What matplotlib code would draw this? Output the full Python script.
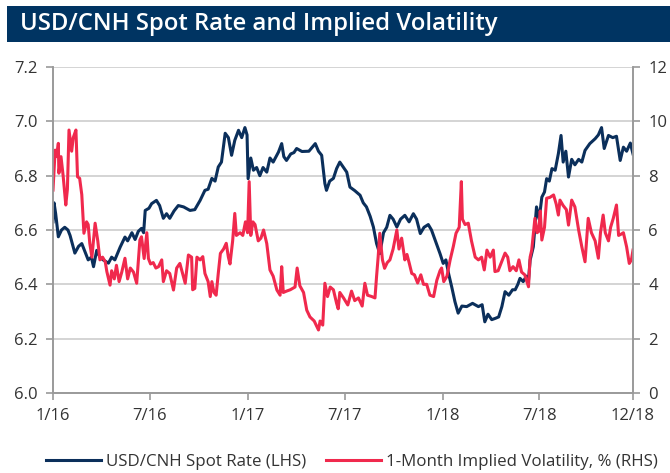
import matplotlib
matplotlib.use("Agg")
import matplotlib.pyplot as plt
from matplotlib.patches import Rectangle
from matplotlib.lines import Line2D
import pandas as pd

# ---------------- data ----------------
title = "USD/CNH Spot Rate and Implied Volatility"
start_date = "2016-01-01"
end_date = "2018-12-24"

# USD/CNH spot rate (LHS): day offsets from 2016-01-01 and values
spot_days = [0, 2, 5, 10, 16, 22, 28, 32, 41, 48, 54, 60, 66, 72, 76, 82, 88, 94,
             104, 110, 116, 126, 135, 140, 148, 154, 160, 166, 170, 173, 180, 185,
             194, 200, 207, 213, 219, 227, 235, 245, 257, 266, 276, 285, 291, 298,
             304, 310, 316, 323, 329, 335, 341, 348, 354, 360, 364, 366, 371, 376,
             382, 388, 394, 401, 407, 413, 423, 429, 433, 438, 446, 452, 457, 467,
             480, 492, 498, 504, 510, 513, 519, 526, 532, 538, 545, 551, 557, 566,
             576, 582, 588, 595, 601, 607, 613, 620, 626, 632, 638, 645, 652, 660,
             668, 676, 682, 689, 696, 704, 710, 717, 726, 732, 737, 742, 748, 754,
             760, 767, 776, 787, 798, 805, 810, 816, 823, 830, 836, 842, 848, 855,
             862, 867, 872, 876, 882, 888, 892, 895, 901, 907, 912, 917, 922, 926,
             931, 936, 942, 948, 953, 957, 962, 967, 973, 979, 986, 992, 998, 1007,
             1017, 1023, 1029, 1034, 1042, 1050, 1057, 1064, 1070, 1076, 1083, 1088]
spot_vals = [6.63, 6.70, 6.66, 6.575, 6.60, 6.61, 6.60, 6.58, 6.515, 6.54, 6.55, 6.52,
             6.49, 6.50, 6.465, 6.525, 6.50, 6.49, 6.478, 6.50, 6.49, 6.537, 6.574,
             6.56, 6.59, 6.565, 6.595, 6.606, 6.59, 6.672, 6.68, 6.697, 6.709, 6.69,
             6.643, 6.66, 6.643, 6.67, 6.69, 6.685, 6.672, 6.675, 6.709, 6.746, 6.75,
             6.79, 6.78, 6.832, 6.85, 6.956, 6.94, 6.875, 6.93, 6.967, 6.94, 6.977,
             6.95, 6.789, 6.865, 6.82, 6.83, 6.80, 6.83, 6.813, 6.865, 6.85, 6.887,
             6.918, 6.87, 6.856, 6.88, 6.885, 6.90, 6.889, 6.89, 6.918, 6.89, 6.875,
             6.771, 6.746, 6.78, 6.79, 6.826, 6.85, 6.83, 6.813, 6.758, 6.745, 6.728,
             6.70, 6.685, 6.65, 6.611, 6.55, 6.513, 6.59, 6.61, 6.654, 6.64, 6.611,
             6.64, 6.654, 6.63, 6.66, 6.64, 6.587, 6.61, 6.62, 6.60, 6.562, 6.513,
             6.477, 6.49, 6.44, 6.39, 6.336, 6.294, 6.32, 6.318, 6.33, 6.318, 6.325,
             6.262, 6.29, 6.27, 6.275, 6.28, 6.318, 6.373, 6.36, 6.38, 6.38, 6.40,
             6.422, 6.41, 6.43, 6.415, 6.489, 6.538, 6.685, 6.64, 6.721, 6.74, 6.789,
             6.78, 6.826, 6.82, 6.881, 6.948, 6.85, 6.89, 6.795, 6.86, 6.84, 6.86,
             6.85, 6.893, 6.918, 6.936, 6.95, 6.977, 6.90, 6.948, 6.94, 6.945, 6.856,
             6.905, 6.89, 6.92, 6.88]

# 1-month implied volatility, % (RHS)
vol_days = [0, 4, 7, 10, 11, 15, 19, 24, 27, 30, 35, 38, 43, 46, 50, 54, 58, 63, 66,
            69, 73, 79, 84, 88, 93, 98, 101, 107, 110, 115, 119, 124, 129, 135, 140,
            145, 151, 157, 163, 166, 171, 176, 179, 183, 188, 193, 198, 204, 207, 213,
            219, 226, 232, 238, 243, 248, 254, 260, 262, 266, 270, 276, 281, 285, 291,
            295, 298, 302, 306, 310, 314, 320, 325, 329, 332, 337, 341, 344, 351, 356,
            361, 365, 368, 371, 375, 379, 385, 390, 395, 401, 404, 407, 413, 420, 426,
            429, 432, 438, 445, 454, 458, 463, 470, 476, 482, 490, 498, 501, 506, 510,
            515, 520, 526, 532, 535, 538, 545, 553, 560, 566, 573, 580, 585, 590, 598,
            604, 607, 610, 613, 618, 622, 627, 632, 638, 645, 649, 654, 660, 664, 668,
            673, 678, 684, 690, 695, 701, 707, 714, 720, 726, 729, 733, 739, 745, 751,
            756, 762, 766, 768, 773, 779, 785, 792, 798, 804, 809, 814, 820, 826, 829,
            835, 842, 848, 853, 857, 863, 869, 874, 879, 885, 890, 892, 895, 898, 904,
            908, 911, 914, 917, 922, 926, 932, 939, 944, 948, 951, 957, 963, 967, 973,
            979, 986, 992, 998, 1004, 1010, 1017, 1023, 1027, 1032, 1036, 1042, 1046,
            1051, 1057, 1061, 1066, 1070, 1076, 1081, 1085, 1088]
vol_vals = [7.47, 8.94, 8.7, 9.19, 8.09, 8.7, 8.0, 6.92, 7.5, 9.68, 8.9, 9.4, 9.68,
            7.96, 7.9, 7.3, 5.88, 6.3, 6.2, 5.51, 5.0, 6.25, 5.6, 4.9, 5.0, 4.83, 4.47,
            3.97, 4.5, 4.2, 4.7, 4.1, 4.45, 4.96, 4.2, 4.6, 4.45, 4.04, 5.63, 5.75,
            4.95, 5.9, 4.95, 4.75, 4.8, 4.6, 4.65, 4.9, 4.1, 4.5, 4.4, 3.79, 4.6, 4.77,
            4.4, 4.04, 5.08, 5.0, 3.8, 3.85, 5.0, 4.9, 5.02, 4.4, 4.1, 3.55, 4.1, 3.7,
            3.6, 4.4, 5.14, 5.3, 5.51, 5.0, 4.75, 5.6, 6.61, 5.8, 5.9, 5.8, 6.3, 5.9,
            7.78, 5.8, 6.3, 6.2, 5.6, 5.7, 6.0, 5.5, 5.0, 4.53, 4.3, 3.79, 3.6, 4.65,
            3.7, 3.75, 3.8, 3.9, 4.6, 3.95, 3.7, 3.05, 2.8, 2.65, 2.32, 2.65, 2.5,
            4.04, 3.55, 3.9, 3.8, 3.3, 3.1, 3.7, 3.5, 3.24, 3.75, 3.4, 3.5, 3.2, 4.04,
            3.6, 3.55, 3.5, 4.3, 5.02, 5.88, 4.9, 4.59, 4.8, 4.9, 5.3, 6.0, 5.3, 5.7,
            4.9, 5.1, 4.8, 4.4, 4.35, 4.05, 4.35, 4.0, 4.0, 3.6, 3.55, 4.15, 4.5, 4.6,
            4.1, 4.3, 4.9, 5.4, 5.88, 6.1, 7.78, 6.4, 6.2, 6.25, 5.6, 5.0, 4.9, 5.0,
            4.53, 5.26, 5.0, 5.26, 4.47, 4.5, 4.85, 5.15, 5.0, 4.5, 4.65, 4.5, 4.9,
            4.45, 4.35, 4.04, 3.91, 5.0, 5.26, 6.43, 5.9, 5.95, 6.7, 5.63, 6.1, 7.17,
            7.2, 7.29, 6.95, 6.55, 7.1, 6.9, 6.75, 6.18, 7.1, 6.85, 6.0, 5.38, 4.83,
            6.43, 5.9, 5.6, 4.96, 5.9, 6.55, 5.9, 5.6, 6.1, 6.43, 6.92, 5.8, 5.85,
            5.9, 5.38, 4.77, 4.9, 5.26]

tick_dates = ["2016-01-01", "2016-07-01", "2017-01-01", "2017-07-01",
              "2018-01-01", "2018-07-01", "2018-12-24"]
tick_labels = ["1/16", "7/16", "1/17", "7/17", "1/18", "7/18", "12/18"]
left_ticks = [6.0, 6.2, 6.4, 6.6, 6.8, 7.0, 7.2]
right_ticks = [0, 2, 4, 6, 8, 10, 12]
series_labels = ["USD/CNH Spot Rate (LHS)", "1-Month Implied Volatility, % (RHS)"]

# ---------------- styling ----------------
NAVY = "#0b2f5b"
RED = "#f0294d"
BAR = "#003462"
GRID = "#d4d4d4"
SPINE = "#9a9a9a"
TXT = "#333333"
FONT = "Open Sans"

plt.rcParams["font.family"] = [FONT, "DejaVu Sans"]

W, H = 670, 473
fig = plt.figure(figsize=(W / 100, H / 100), dpi=100)

# title bar
fig.patches.append(Rectangle((7 / W, 1 - 42 / H), 1 - 7 / W, 36 / H,
                             transform=fig.transFigure, facecolor=BAR,
                             edgecolor="none", zorder=0))
fig.text(20 / W, 1 - 24.5 / H, title, color="white", fontsize=17.2,
         fontweight="semibold", va="center", ha="left",
         family=["Open Sans", "DejaVu Sans"])

ax = fig.add_axes([53 / W, 1 - 393 / H, (633 - 53) / W, (393 - 67) / H])
ax2 = ax.twinx()

base = pd.Timestamp(start_date)
spot_x = base + pd.to_timedelta(spot_days, unit="D")
vol_x = base + pd.to_timedelta(vol_days, unit="D")

ax.plot(spot_x, spot_vals, color=NAVY, lw=2.2, solid_joinstyle="round")
ax2.plot(vol_x, vol_vals, color=RED, lw=2.2, solid_joinstyle="round")

ax.set_xlim(pd.Timestamp(start_date), pd.Timestamp(end_date))
ax.set_ylim(6.0, 7.2)
ax2.set_ylim(0, 12)

ax.set_yticks(left_ticks)
ax.set_yticklabels([f"{v:.1f}" for v in left_ticks])
ax2.set_yticks(right_ticks)
ax2.set_yticklabels([str(v) for v in right_ticks])
ax.set_xticks(pd.to_datetime(tick_dates))
ax.set_xticklabels(tick_labels)

ax.grid(axis="y", color=GRID, lw=1.4)
ax.set_axisbelow(True)

for a in (ax, ax2):
    for s in a.spines.values():
        s.set_color(SPINE)
        s.set_linewidth(1.2)
    a.spines["top"].set_visible(False)
    a.tick_params(colors=SPINE, labelcolor=TXT, labelsize=12, length=5, width=1.2)
ax.tick_params(axis="x", pad=6)
ax.tick_params(axis="y", pad=6)
ax2.tick_params(axis="y", pad=6)

handles = [Line2D([], [], color=NAVY, lw=2.2), Line2D([], [], color=RED, lw=2.2)]
fig.legend(handles, series_labels, loc="center", bbox_to_anchor=(352 / W, 1 - 462 / H),
           ncol=2, frameon=False, fontsize=12.2, handlelength=3.2, handletextpad=0.3,
           columnspacing=1.2, labelcolor=TXT, borderpad=0.2)

fig.savefig("out.png", dpi=100)
